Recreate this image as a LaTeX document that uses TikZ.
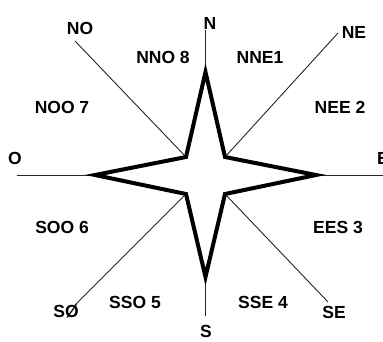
\documentclass[tikz,border=0pt]{standalone}
\usepackage{fontspec}
\setmainfont{Liberation Sans}
\begin{document}
\begin{tikzpicture}[x=1pt,y=-1pt,
  lbl/.style={font=\fontsize{17.5}{20}\selectfont\bfseries, inner sep=0pt},
  ray/.style={line width=0.9pt, draw=black!85},
  starline/.style={line width=4pt, line join=miter, miter limit=10, draw=black, fill=white}]
\useasboundingbox (0,0) rectangle (383,341);
% star vertices
\coordinate (c) at (205.5,175);
\coordinate (tN) at (205.5,72);
\coordinate (tS) at (205.5,277);
\coordinate (tO) at (95,175);
\coordinate (tE) at (316,175);
\coordinate (iNO) at (186,157);
\coordinate (iNE) at (225,157);
\coordinate (iSO) at (186,194);
\coordinate (iSE) at (225,194);
% outer ends of the rays
\coordinate (eN) at (205.5,30);
\coordinate (eS) at (205.5,316);
\coordinate (eO) at (17,175);
\coordinate (eE) at (383,175);
\coordinate (eNO) at (75,41);
\coordinate (eNE) at (338,33);
\coordinate (eSO) at (75,305);
\coordinate (eSE) at (328,302);
% rays
\draw[ray] (eN) -- (tN);
\draw[ray] (eS) -- (tS);
\draw[ray] (eO) -- (tO);
\draw[ray] (eE) -- (tE);
\draw[ray] (eNO) -- (iNO);
\draw[ray] (eNE) -- (iNE);
\draw[ray] (eSO) -- (iSO);
\draw[ray] (eSE) -- (iSE);
% star
\draw[starline] (tN) -- (iNE) -- (tE) -- (iSE) -- (tS) -- (iSO) -- (tO) -- (iNO) -- cycle;
% labels
\node[lbl] (N) at (210,23) {N};
\node[lbl] (S) at (206,331.5) {S};
\node[lbl] (O) at (15,158) {O};
\node[lbl, anchor=west] (E) at (377,158) {E};
\node[lbl] (NO) at (80,28) {NO};
\node[lbl] (NE) at (354,32) {NE};
\node[lbl] (SO) at (66,312) {SØ};
\node[lbl] (SE) at (334,312) {SE};
\node[lbl] (NNO) at (163,57) {NNO 8};
\node[lbl] (NNE) at (260,57) {NNE1};
\node[lbl] (NOO) at (62,107) {NOO 7};
\node[lbl] (NEE) at (340,107) {NEE 2};
\node[lbl] (SOO) at (62,227) {SOO 6};
\node[lbl] (EES) at (338,227) {EES 3};
\node[lbl] (SSO) at (135,302) {SSO 5};
\node[lbl] (SSE) at (263,302) {SSE 4};
\end{tikzpicture}
\end{document}
